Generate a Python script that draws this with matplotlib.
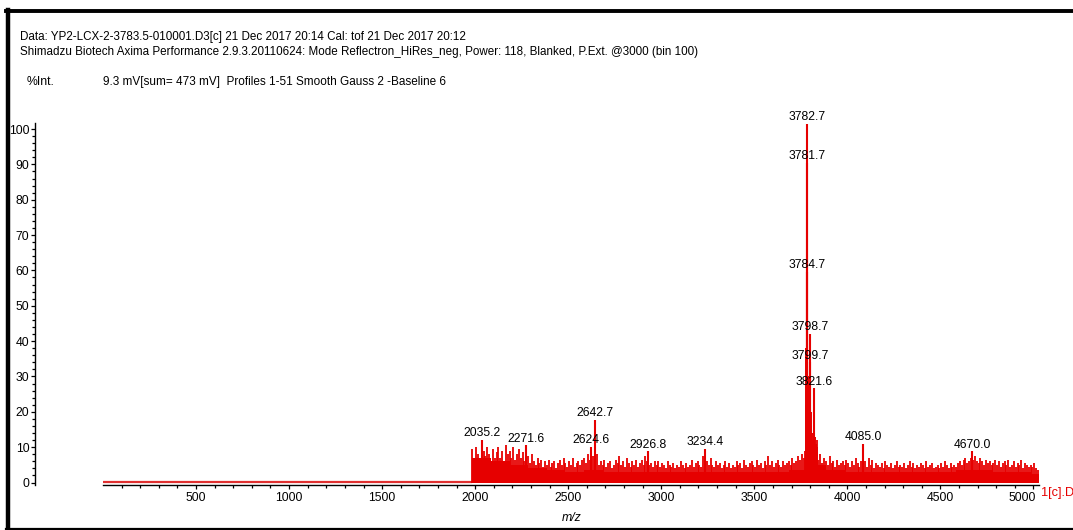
import numpy as np
import matplotlib
matplotlib.use('Agg')
import matplotlib.pyplot as plt
from matplotlib import font_manager as fm
from matplotlib.lines import Line2D
import matplotlib.transforms as mtransforms

# ---------------- data ----------------
# noise sticks: one value per 10 m/z starting at 1985
noise_start = 1985
noise_step = 10
noise_int = [
    9.5, 7, 10, 8, 6.5, 11, 9, 7.5, 10, 8,
    6, 9.5, 7, 8.5, 10, 7, 9, 6, 10.5, 8,
    9, 7, 10, 6.5, 8, 9.5, 7, 8.5, 6, 9,
    7.5, 5.5, 8, 6, 5, 7, 5.5, 6.5, 4.5, 6,
    5, 6.5, 4.5, 5.5, 6, 4, 5.5, 6.5, 5, 7,
    5.5, 4.5, 6, 5, 7, 4.5, 5.5, 6, 5, 6.5,
    7, 5.5, 8, 6.5, 9, 7.5, 6, 8, 5, 6,
    5, 6.5, 4.5, 5.5, 6, 4, 5, 6.5, 5.5, 7.5,
    5, 6, 4.5, 7, 5.5, 4.5, 6, 5, 6.5, 4.5,
    5.5, 6.5, 5, 7.5, 6, 5, 5.5, 4.5, 6, 5,
    6, 4.5, 5.5, 5, 4, 6, 5, 4.5, 5.5, 4,
    5, 4.5, 6, 5, 4, 5.5, 4.5, 5, 6.5, 4.5,
    5.5, 6, 5, 4.5, 7.5, 5.5, 6, 5, 7, 5,
    4.5, 6, 5, 5.5, 4, 5, 6, 4.5, 5.5, 4,
    5, 4.5, 6, 5, 5.5, 4, 6.5, 5, 4.5, 5.5,
    6, 5, 4.5, 6.5, 5, 5.5, 4, 6, 5, 7.5,
    5, 6, 4.5, 5.5, 6.5, 5, 4.5, 6, 5, 5.5,
    6, 5, 7, 5.5, 6, 7.5, 6.5, 8, 7, 9,
    9, 10, 8, 11, 7, 12, 6.5, 8, 5.5, 7,
    6, 5, 7.5, 5.5, 6, 4.5, 6.5, 5, 5.5, 6,
    5, 6.5, 5.5, 4.5, 6, 5, 7, 5.5, 4.5, 6,
    5.5, 6, 4.5, 7, 5, 6.5, 4, 5.5, 5, 4.5,
    5.5, 4, 6, 5, 4.5, 5.5, 4, 5, 6, 4.5,
    5, 4.5, 5.5, 4, 5, 6, 4.5, 5.5, 4, 5,
    4.5, 5.5, 5, 4, 6, 4.5, 5, 5.5, 4, 4.5,
    5, 4, 5.5, 4.5, 6, 5, 4, 5.5, 4.5, 5,
    4.5, 5.5, 6, 5, 6.5, 7, 5.5, 6, 7, 6.5,
    7.5, 6, 5.5, 7, 6, 5, 6.5, 5.5, 6, 5,
    5.5, 6.5, 5, 6, 4.5, 5.5, 6, 5, 6.5, 4.5,
    5, 6, 4.5, 5.5, 5, 6.5, 4, 5.5, 5, 4.5,
    5, 4.5, 5.5, 4, 3.5,
]
# solid noise floor, one value per 100 m/z block starting at 1985
floor_int = [7.0, 6.0, 5.0, 4.0, 3.5, 3.0, 3.5, 3.0, 3.0, 3.0,
             3.0, 3.0, 3.0, 3.0, 3.0, 3.0, 3.0, 3.5, 5.0, 3.5,
             3.0, 3.0, 3.0, 3.0, 3.0, 3.0, 3.5, 3.5, 3.0, 3.0, 2.5]
spectrum_end = 5030

# labelled peaks
label_mz = [2035.2, 2271.6, 2624.6, 2642.7, 2926.8, 3234.4, 3781.7,
            3782.7, 3784.7, 3798.7, 3799.7, 3821.6, 4085.0, 4670.0]
label_int = [12.0, 10.5, 10.0, 17.8, 8.8, 9.6, 90.5,
             101.5, 59.5, 42.0, 34.0, 26.6, 11.0, 8.8]
# unlabelled peaks of the main cluster
extra_mz = [3776.5, 3778.7, 3780.7, 3783.7, 3785.7, 3787.7, 3790.6, 3796.7,
            3800.7, 3802.7, 3805.6, 3810.6, 3816.6, 3819.6, 3823.6, 3830.5, 3837.6]
extra_int = [22, 38, 55, 80, 48, 30, 20, 24, 26, 20, 16, 14, 12, 18, 13, 11, 10]

x_major = [500, 1000, 1500, 2000, 2500, 3000, 3500, 4000, 4500, 5000]
y_major = [0, 10, 20, 30, 40, 50, 60, 70, 80, 90, 100]

header1 = "Data: YP2-LCX-2-3783.5-010001.D3[c] 21 Dec 2017 20:14 Cal: tof 21 Dec 2017 20:12"
header2 = ("Shimadzu Biotech Axima Performance 2.9.3.20110624: Mode Reflectron_HiRes_neg, "
           "Power: 118, Blanked, P.Ext. @3000 (bin 100)")
header3 = "9.3 mV[sum= 473 mV]  Profiles 1-51 Smooth Gauss 2 -Baseline 6"

# ---------------- style ----------------
try:
    fm.findfont('Liberation Sans Narrow', fallback_to_default=False)
    FONT = 'Liberation Sans Narrow'
    narrow = True
except Exception:
    FONT = 'Liberation Sans'
    narrow = False
plt.rcParams['font.family'] = [FONT, 'Liberation Sans', 'DejaVu Sans']
TICK_FS = 10.4 if narrow else 8.8
LAB_FS = 10.2 if narrow else 8.7
RED = '#e60000'

W, H = 1073, 530
fig = plt.figure(figsize=(W / 100, H / 100), dpi=100)
renderer = fig.canvas.get_renderer()

# frame
fig.add_artist(Line2D([7.5 / W, 7.5 / W], [1 - 10 / H, 1 - 529 / H], color='black', lw=3.2))
fig.add_artist(Line2D([6 / W, 1.0], [1 - 10.5 / H, 1 - 10.5 / H], color='black', lw=2.8))
fig.add_artist(Line2D([6 / W, 1.0], [1 - 528.8 / H, 1 - 528.8 / H], color='black', lw=1.6))


def fit_text(xpx, ypx, s, wpx, size0=9, **kw):
    t = fig.text(xpx / W, 1 - ypx / H, s, fontsize=size0, va='center', ha='left', **kw)
    w = t.get_window_extent(renderer).width
    t.set_fontsize(size0 * wpx / w)
    return t


fit_text(20, 37, header1, 448)
fit_text(20, 52, header2, 681)
fit_text(27, 82, "%Int.", 28)
fit_text(103, 82, header3, 342)

# axes
L, R, B, T = 103, 1039, 485, 123
ax = fig.add_axes([L / W, (H - B) / H, (R - L) / W, (B - T) / H])
ax.set_xlim(0, spectrum_end)
ax.set_ylim(-0.7, 101.7)
for s in ('top', 'right'):
    ax.spines[s].set_visible(False)
ax.spines['left'].set_position(('axes', (35 - L) / (R - L)))
ax.spines['left'].set_linewidth(1.0)
ax.spines['bottom'].set_linewidth(1.0)

ax.set_xticks(x_major)
ax.set_xticks(np.arange(100, spectrum_end, 100), minor=True)
ax.set_yticks(y_major)
ax.set_yticks(np.arange(0, 101, 2), minor=True)
ax.tick_params(axis='both', which='major', direction='out', length=3.2, width=0.9,
               labelsize=TICK_FS, pad=1.5)
ax.tick_params(axis='both', which='minor', direction='out', length=2.2, width=0.9)
ax.tick_params(axis='y', which='major', pad=0.8)
ax.tick_params(axis='x', which='major', pad=2.0)

# last x tick label sits left of its tick
fig.canvas.draw()
last = ax.get_xticklabels()[-1]
last.set_horizontalalignment('right')
last.set_transform(last.get_transform() + mtransforms.ScaledTranslation(2 / 100, 0, fig.dpi_scale_trans))

# spectrum
noise_mz = noise_start + noise_step * np.arange(len(noise_int))
floor_x = noise_start + 100 * np.arange(len(floor_int) + 1)
floor_x[-1] = spectrum_end
floor_y = list(floor_int) + [floor_int[-1]]
ax.plot([0, noise_start], [0.25, 0.25], color='#e03030', lw=1.6, solid_capstyle='butt')
ax.fill_between(floor_x, 0, floor_y, step='post', color=RED, lw=0)
ax.vlines(noise_mz, 0, noise_int, color=RED, lw=1.3)
ax.vlines(extra_mz, 0, extra_int, color=RED, lw=1.4)
ax.vlines(label_mz, 0, label_int, color=RED, lw=1.5)

for mz, it in zip(label_mz, label_int):
    ax.annotate(f"{mz:.1f}", (mz, it), xytext=(0, 0.5), textcoords='offset points',
                ha='center', va='bottom', fontsize=LAB_FS, color='black',
                annotation_clip=False)

fig.text(572 / W, 1 - 518 / H, 'm/z', style='italic', fontsize=TICK_FS,
         ha='center', va='center')
fig.text(1041 / W, 1 - 493 / H, '1[c].D3', color=RED, fontsize=TICK_FS + 0.4,
         ha='left', va='center')

fig.savefig('out.png', dpi=100)
